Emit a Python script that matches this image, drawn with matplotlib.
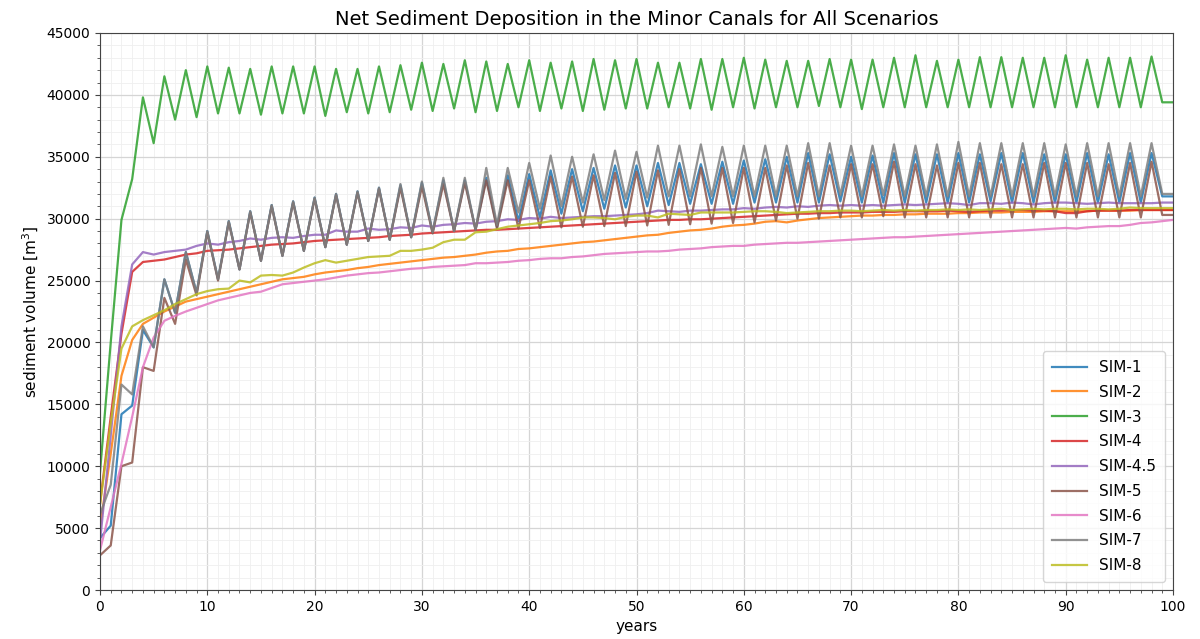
import numpy as np
import matplotlib
matplotlib.use("Agg")
import matplotlib.pyplot as plt
from matplotlib.ticker import MultipleLocator

years = np.arange(0, 101)

labels = ["SIM-1", "SIM-2", "SIM-3", "SIM-4", "SIM-4.5", "SIM-5", "SIM-6", "SIM-7", "SIM-8"]

sim1 = [4200, 5200, 14200, 14900, 21000, 19600, 25100, 22400, 27300, 24000,
        29000, 25100, 29800, 25900, 30600, 26600, 31100, 27000, 31400, 27400,
        31700, 27700, 32000, 27900, 32200, 28200, 32500, 28300, 32700, 28500,
        32900, 28900, 33100, 29000, 33100, 29100, 33300, 29300, 33500, 29800,
        33600, 30100, 33900, 30400, 34000, 30600, 34100, 30800, 34300, 30900,
        34300, 31000, 34500, 31100, 34500, 31200, 34400, 31200, 34600, 31200,
        34700, 31300, 34800, 31300, 35000, 31300, 35300, 31300, 35200, 31400,
        35000, 31300, 35100, 31300, 35300, 31300, 35200, 31300, 35200, 31300,
        35300, 31300, 35200, 31400, 35300, 31300, 35300, 31300, 35200, 31300,
        35200, 31300, 35300, 31300, 35200, 31300, 35300, 31300, 35300, 31800, 31800]

sim2 = [5100, 11000, 17300, 20200, 21500, 22000, 22500, 22900, 23300, 23500,
        23700, 23900, 24100, 24300, 24500, 24700, 24900, 25100, 25200, 25300,
        25500, 25650, 25750, 25850, 26000, 26100, 26250, 26350, 26450, 26550,
        26650, 26750, 26850, 26900, 27000, 27100, 27250, 27350, 27400, 27550,
        27600, 27700, 27800, 27900, 28000, 28100, 28150, 28250, 28350, 28450,
        28550, 28650, 28700, 28850, 28950, 29050, 29100, 29200, 29350, 29450,
        29500, 29600, 29750, 29800, 29700, 29850, 29950, 30050, 30100, 30150,
        30200, 30250, 30250, 30300, 30300, 30350, 30350, 30400, 30400, 30400,
        30450, 30450, 30500, 30500, 30500, 30550, 30550, 30550, 30600, 30600,
        30600, 30600, 30600, 30650, 30650, 30650, 30650, 30700, 30700, 30700, 30700]

sim3 = [9500, 20000, 29900, 33200, 39800, 36100, 41500, 38000, 42000, 38200,
        42300, 38500, 42200, 38500, 42100, 38400, 42300, 38500, 42300, 38500,
        42300, 38300, 42100, 38600, 42100, 38500, 42300, 38600, 42400, 38800,
        42600, 38700, 42500, 38900, 42800, 38600, 42700, 38700, 42500, 39000,
        42800, 38700, 42600, 38900, 42700, 38700, 42900, 38800, 42800, 38900,
        42900, 38900, 42600, 39000, 42600, 38900, 42900, 38800, 42900, 39000,
        43000, 38900, 42850, 39000, 42750, 39000, 42750, 39100, 42900, 39000,
        42850, 38850, 42850, 39000, 43000, 39000, 43200, 39000, 42750, 39000,
        42850, 39000, 43050, 39000, 43050, 39000, 43000, 39000, 43000, 39000,
        43200, 39000, 42850, 39000, 43000, 39000, 43000, 39000, 43100, 39400, 39400]

sim4 = [7000, 14000, 20700, 25700, 26500, 26600, 26700, 26900, 27100, 27200,
        27400, 27450, 27500, 27600, 27700, 27800, 27900, 27950, 28000, 28100,
        28200, 28250, 28300, 28350, 28400, 28450, 28500, 28600, 28650, 28700,
        28800, 28850, 28900, 28950, 29000, 29050, 29100, 29100, 29150, 29200,
        29250, 29300, 29350, 29400, 29450, 29500, 29550, 29600, 29650, 29700,
        29750, 29800, 29850, 29900, 29900, 29950, 29950, 30000, 30050, 30100,
        30150, 30200, 30250, 30300, 30350, 30400, 30400, 30450, 30450, 30500,
        30500, 30500, 30550, 30550, 30550, 30600, 30600, 30600, 30600, 30650,
        30600, 30550, 30600, 30650, 30650, 30700, 30700, 30650, 30650, 30600,
        30450, 30450, 30600, 30650, 30650, 30650, 30700, 30700, 30700, 30700, 30700]

sim45 = [3900, 12500, 21300, 26300, 27300, 27100, 27300, 27400, 27500, 27800,
         28000, 27900, 28100, 28200, 28400, 28300, 28450, 28500, 28450, 28600,
         28700, 28700, 29050, 28950, 28950, 29200, 29100, 29150, 29300, 29250,
         29450, 29350, 29500, 29550, 29650, 29600, 29750, 29800, 29950, 29900,
         30050, 30000, 30150, 30050, 30100, 30150, 30200, 30200, 30250, 30300,
         30350, 30450, 30650, 30600, 30550, 30650, 30650, 30700, 30750, 30750,
         30850, 30800, 30900, 30950, 30900, 31000, 30950, 31050, 31100, 31050,
         31100, 31050, 31100, 31050, 31100, 31150, 31100, 31150, 31200, 31250,
         31200, 31100, 31250, 31250, 31200, 31300, 31250, 31150, 31250, 31300,
         31300, 31250, 31200, 31250, 31300, 31250, 31250, 31250, 31250, 31300, 31300]

sim5 = [2800, 3600, 10000, 10300, 18000, 17700, 23600, 21500, 26700, 23800,
        28900, 25000, 29700, 25900, 30500, 26600, 31000, 27000, 31300, 27400,
        31600, 27700, 31900, 27900, 32100, 28200, 32400, 28300, 32500, 28500,
        32600, 28800, 32800, 29000, 32900, 29100, 33100, 29200, 33100, 29200,
        33100, 29250, 33400, 29300, 33400, 29350, 33500, 29400, 33700, 29400,
        33800, 29450, 33900, 29500, 34000, 29550, 34100, 29600, 34100, 29650,
        34100, 29700, 34100, 29850, 34300, 30000, 34500, 30000, 34300, 30100,
        34400, 30100, 34400, 30200, 34600, 30100, 34400, 30100, 34300, 30100,
        34500, 30100, 34500, 30100, 34400, 30100, 34400, 30100, 34500, 30100,
        34500, 30100, 34500, 30100, 34400, 30100, 34500, 30100, 34600, 30300, 30300]

sim6 = [3200, 6700, 10200, 14000, 18000, 20400, 21750, 22150, 22500, 22800,
        23100, 23400, 23600, 23800, 24000, 24100, 24400, 24700, 24800, 24900,
        25000, 25100, 25250, 25400, 25500, 25600, 25650, 25750, 25850, 25950,
        26000, 26100, 26150, 26200, 26250, 26400, 26400, 26450, 26500, 26600,
        26650, 26750, 26800, 26800, 26900, 26950, 27050, 27150, 27200, 27250,
        27300, 27350, 27350, 27400, 27500, 27550, 27600, 27700, 27750, 27800,
        27800, 27900, 27950, 28000, 28050, 28050, 28100, 28150, 28200, 28250,
        28300, 28350, 28400, 28450, 28500, 28500, 28550, 28600, 28650, 28700,
        28750, 28800, 28850, 28900, 28950, 29000, 29050, 29100, 29150, 29200,
        29250, 29200, 29300, 29350, 29400, 29400, 29500, 29650, 29700, 29800, 29900]

sim7 = [6100, 8500, 16600, 15800, 21300, 19600, 25100, 22400, 27300, 24000,
        29000, 25100, 29800, 25900, 30600, 26600, 31100, 27000, 31400, 27400,
        31700, 27700, 32000, 27900, 32200, 28200, 32500, 28300, 32800, 28500,
        33000, 28900, 33300, 29000, 33300, 29100, 34100, 29500, 34100, 30500,
        34500, 30800, 35100, 31000, 35000, 31300, 35200, 31500, 35500, 31600,
        35400, 31700, 35900, 31800, 35900, 31800, 36000, 31800, 35800, 31800,
        35900, 31800, 35900, 31800, 35900, 31800, 36100, 31800, 36100, 31900,
        35900, 31800, 35900, 31900, 36000, 31800, 35900, 31800, 36000, 31800,
        36200, 31800, 36100, 31800, 36100, 31800, 36100, 31800, 36100, 31800,
        36000, 31800, 36100, 31800, 36100, 31800, 36100, 31800, 36100, 32000, 32000]

sim8 = [6900, 13500, 19500, 21300, 21800, 22200, 22600, 23100, 23500, 23900,
        24150, 24300, 24350, 25000, 24850, 25400, 25450, 25400, 25650, 26050,
        26400, 26650, 26450, 26600, 26750, 26900, 26950, 27000, 27400, 27400,
        27500, 27650, 28100, 28300, 28300, 28900, 28950, 29150, 29350, 29450,
        29550, 29650, 29800, 29850, 29950, 30100, 30100, 30050, 29950, 30150,
        30250, 30250, 30100, 30400, 30350, 30300, 30500, 30500, 30500, 30500,
        30550, 30600, 30600, 30550, 30450, 30500, 30550, 30600, 30600, 30650,
        30650, 30600, 30650, 30700, 30650, 30700, 30650, 30700, 30700, 30750,
        30700, 30750, 30700, 30750, 30800, 30700, 30750, 30800, 30750, 30800,
        30800, 30750, 30800, 30800, 30750, 30800, 30900, 30850, 30850, 30850, 30850]

series = [sim1, sim2, sim3, sim4, sim45, sim5, sim6, sim7, sim8]

fig = plt.figure(figsize=(12, 6.39), dpi=100)
ax = fig.add_axes([100 / 1200, 49 / 639, 1073 / 1200, 557 / 639])

# tab10 lines, a little transparent
for vals, lab in zip(series, labels):
    ax.plot(years, vals, lw=1.6, alpha=0.85, label=lab)

ax.set_xlim(0, 100)
ax.set_ylim(0, 45000)
ax.xaxis.set_major_locator(MultipleLocator(10))
ax.xaxis.set_minor_locator(MultipleLocator(1))
ax.yaxis.set_major_locator(MultipleLocator(5000))
ax.yaxis.set_minor_locator(MultipleLocator(1000))

ax.grid(which="major", color="#d5d5d5", lw=0.9)
ax.grid(which="minor", color="#efefef", lw=0.6)
ax.set_axisbelow(True)
for s in ax.spines.values():
    s.set_color("#444444")
ax.tick_params(which="major", labelsize=10, length=3.5, color="#444444")
ax.tick_params(which="minor", length=2, color="#444444")

ax.set_title("Net Sediment Deposition in the Minor Canals for All Scenarios", fontsize=14)
ax.set_xlabel("years", fontsize=11)
ax.set_ylabel("sediment volume [m$^3$]", fontsize=11)
ax.legend(loc="lower right", fontsize=11, handlelength=2.3, borderpad=0.6,
          labelspacing=0.64)

fig.savefig("out.png", dpi=100)
